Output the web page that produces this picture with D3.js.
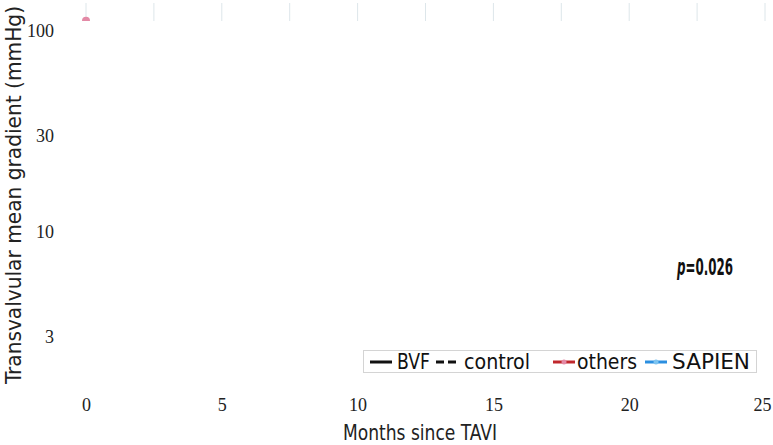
<!DOCTYPE html>
<html lang="en">
  <head>
    <meta charset="utf-8">
    <script src="https://d3js.org/d3.v7.min.js"></script>
    <style>
      body { margin: 0; background: #fff; }
      text { font-family: "DejaVu Sans Condensed", "Roboto", sans-serif; }
    </style>
  </head>
  <body>
    <svg id="chart" width="773" height="445"></svg>
    <script>
    // data
    var months = [0];
    var gradient = [115];
    var valveType = ["others"];
    var xTicks = [0, 5, 10, 15, 20, 25];
    var xGrid = [0, 2.5, 5, 7.5, 10, 12.5, 15, 17.5, 20, 22.5, 25];
    var yTicks = [3, 10, 30, 100];
    var legendLines = ["BVF", "control"];
    var legendValves = ["others", "SAPIEN"];
    var valveColors = {others: "#c0282d", SAPIEN: "#2b8fe0"};
    var pointColors = {others: "#e38aa6", SAPIEN: "#7cc3f0"};

    var svg = d3.select("#chart");
    var x = d3.scaleLinear().domain([0, 25]).range([86, 765]);
    var y = d3.scaleLog().domain([10, 100]).range([232, 31]);

    // only the top strip of the panel is visible
    svg.append("clipPath").attr("id", "panel")
      .append("rect").attr("x", 60).attr("y", 0).attr("width", 713).attr("height", 21);

    var panel = svg.append("g").attr("clip-path", "url(#panel)");
    panel.selectAll("line.grid")
      .data(xGrid)
      .enter()
      .append("line")
      .attr("class", "grid")
      .attr("x1", function(d) { return x(d); })
      .attr("x2", function(d) { return x(d); })
      .attr("y1", 3)
      .attr("y2", 21)
      .attr("stroke", "#dde6ea")
      .attr("stroke-width", 1);

    panel.selectAll("circle")
      .data(months)
      .enter()
      .append("circle")
      .attr("cx", function(d) { return x(d); })
      .attr("cy", function(d, i) { return y(gradient[i]) + 2; })
      .attr("r", 4)
      .attr("fill", function(d, i) { return pointColors[valveType[i]]; });

    // y axis labels
    var yAxis = d3.axisLeft(y).tickValues(yTicks).tickFormat(d3.format("d")).tickSize(0).tickPadding(0);
    var ya = svg.append("g").attr("transform", "translate(54,0)").call(yAxis);
    ya.select(".domain").remove();
    ya.selectAll("text")
      .style("font-family", "'Liberation Serif', serif")
      .style("font-size", "18px")
      .attr("fill", "#222");

    // x axis labels
    var xAxis = d3.axisBottom(x).tickValues(xTicks).tickSize(0).tickPadding(0);
    var xa = svg.append("g").attr("transform", "translate(0,398)").call(xAxis);
    xa.select(".domain").remove();
    xa.selectAll("text")
      .style("font-family", "'Liberation Serif', serif")
      .style("font-size", "18px")
      .attr("fill", "#222")
      .attr("x", function(d) { return d == 25 ? -3 : 0; });

    svg.append("text")
      .attr("x", 420)
      .attr("y", 440)
      .attr("text-anchor", "middle")
      .attr("font-size", 22)
      .attr("textLength", 154)
      .attr("lengthAdjust", "spacingAndGlyphs")
      .attr("fill", "#222")
      .text("Months since TAVI");

    svg.append("text")
      .attr("transform", "translate(21,195) rotate(-90)")
      .attr("text-anchor", "middle")
      .attr("font-size", 22)
      .attr("textLength", 378)
      .attr("lengthAdjust", "spacingAndGlyphs")
      .attr("fill", "#222")
      .text("Transvalvular mean gradient (mmHg)");

    // p value, squeezed to look condensed
    var pv = svg.append("g")
      .attr("transform", "translate(677,275) scale(0.66,1.12)")
      .append("text")
      .attr("x", 0)
      .attr("y", 0)
      .attr("font-size", 20)
      .attr("font-weight", "bold")
      .attr("fill", "#111");
    pv.append("tspan").attr("font-style", "italic").text("p");
    pv.append("tspan").text("=0.026");

    // legend
    var legend = svg.append("g").attr("class", "legend");
    legend.append("rect")
      .attr("x", 363.5).attr("y", 350.5)
      .attr("width", 393).attr("height", 22)
      .attr("fill", "#fff").attr("stroke", "#d4d4d4");

    var lineItems = [
      {label: legendLines[0], x: 370, dash: null, tx: 397, w: 33},
      {label: legendLines[1], x: 436, dash: "8,4", tx: 464, w: 66}
    ];
    legend.selectAll("g.lt")
      .data(lineItems)
      .enter()
      .append("g")
      .attr("class", "lt")
      .each(function(d) {
        var g = d3.select(this);
        g.append("line")
          .attr("x1", d.x).attr("x2", d.x + 22)
          .attr("y1", 362).attr("y2", 362)
          .attr("stroke", "#111").attr("stroke-width", 3)
          .attr("stroke-dasharray", d.dash);
        g.append("text")
          .attr("x", d.tx).attr("y", 369)
          .attr("font-size", 21).attr("fill", "#111")
          .attr("textLength", d.w).attr("lengthAdjust", "spacingAndGlyphs")
          .text(d.label);
      });

    var valveItems = [
      {label: legendValves[0], x: 553, tx: 577, w: 60},
      {label: legendValves[1], x: 645, tx: 672, w: 78}
    ];
    legend.selectAll("g.lv")
      .data(valveItems)
      .enter()
      .append("g")
      .attr("class", "lv")
      .each(function(d) {
        var g = d3.select(this);
        g.append("line")
          .attr("x1", d.x).attr("x2", d.x + 22)
          .attr("y1", 362).attr("y2", 362)
          .attr("stroke", valveColors[d.label]).attr("stroke-width", 3);
        g.append("circle")
          .attr("cx", d.x + 11).attr("cy", 362).attr("r", 2.5)
          .attr("fill", pointColors[d.label]);
        g.append("text")
          .attr("x", d.tx).attr("y", 369)
          .attr("font-size", 21).attr("fill", "#111")
          .attr("textLength", d.w).attr("lengthAdjust", "spacingAndGlyphs")
          .text(d.label);
      });
    </script>
  </body>
</html>
